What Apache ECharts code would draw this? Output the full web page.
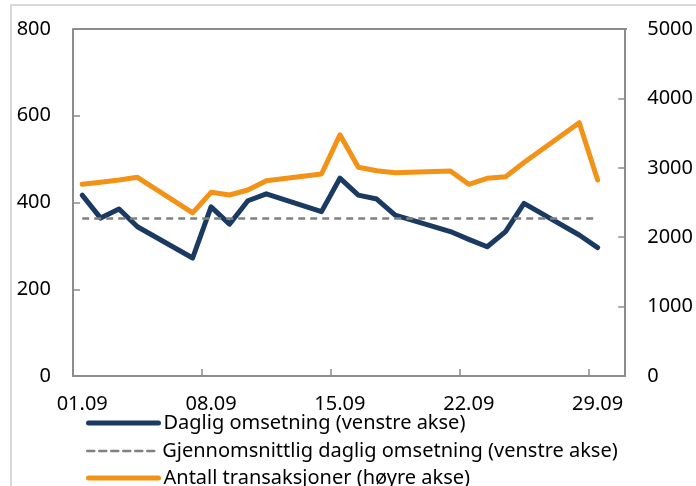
<!DOCTYPE html>
<html>
<head>
<meta charset="utf-8">
<script src="https://cdn.jsdelivr.net/npm/echarts@6/dist/echarts.min.js"></script>
<style>
  html, body { margin: 0; padding: 0; background: #fff; }
  #chart { width: 696px; height: 486px; }
</style>
</head>
<body>
<div id="chart"></div>
<script>
// datoer i september (helger uten data)
var dager = ['01.09', '02.09', '03.09', '04.09', '05.09', '06.09', '07.09', '08.09', '09.09', '10.09',
  '11.09', '12.09', '13.09', '14.09', '15.09', '16.09', '17.09', '18.09', '19.09', '20.09',
  '21.09', '22.09', '23.09', '24.09', '25.09', '26.09', '27.09', '28.09', '29.09', '30.09'];

// daglig omsetning, venstre akse
var omsetning = [417, 364, 385, 344, null, null, 272, 390, 350, 404,
  420, null, null, 379, 456, 417, 408, 371, null, null,
  333, 315, 298, 333, 398, null, null, 325, 296, null];

// gjennomsnittlig daglig omsetning, venstre akse
var snitt = [363, 363, 363, 363, null, null, 363, 363, 363, 363,
  363, null, null, 363, 363, 363, 363, 363, null, null,
  363, 363, 363, 363, 363, null, null, 363, 363, null];

// antall transaksjoner, høyre akse
var transaksjoner = [2762, 2791, 2824, 2863, null, null, 2350, 2647, 2608, 2680,
  2814, null, null, 2911, 3475, 3007, 2958, 2930, null, null,
  2954, 2762, 2849, 2872, 3075, null, null, 3650, 2824, null];

var navn = ['Daglig omsetning (venstre akse)',
  'Gjennomsnittlig daglig omsetning (venstre akse)',
  'Antall transaksjoner (høyre akse)'];

var font = 'Noto Sans';
var axisGray = '#8c8c8c';
var blaa = '#1b3a61';
var graa = '#808080';
var oransje = '#f29318';

// en legend per linje, ellers brytes den i kolonner
function lagLegend(i, top, bredde, type) {
  return {
    orient: 'vertical',
    left: 81,
    top: top,
    itemWidth: 70,
    itemHeight: 14,
    textStyle: { fontFamily: font, fontSize: 20, color: '#000', lineHeight: 20 },
    itemStyle: { opacity: 0, borderWidth: 0 },
    lineStyle: { width: bredde, type: type, cap: 'round' },
    data: [navn[i]]
  };
}

var myChart = echarts.init(document.getElementById('chart'));
var option = {
  backgroundColor: '#fff',
  animation: false,
  textStyle: { fontFamily: font, color: '#000' },
  grid: { left: 73, right: 69, top: 29, bottom: 110 },
  // ramme rundt figuren + topplinje i plottet
  graphic: [
    { type: 'line', shape: { x1: 10, y1: 5, x2: 696, y2: 5 }, style: { stroke: '#d9d9d9', lineWidth: 2 } },
    { type: 'line', shape: { x1: 11, y1: 5, x2: 11, y2: 486 }, style: { stroke: '#d9d9d9', lineWidth: 2 } },
    { type: 'line', shape: { x1: 73, y1: 29, x2: 627, y2: 29 }, style: { stroke: axisGray, lineWidth: 2 } }
  ],
  legend: [
    lagLegend(0, 408, 5, 'solid'),
    lagLegend(1, 436, 2.5, [7, 5]),
    lagLegend(2, 463, 5, 'solid')
  ],
  xAxis: {
    type: 'category',
    data: dager,
    boundaryGap: true,
    axisLine: { lineStyle: { color: axisGray, width: 2 } },
    axisTick: { show: true, interval: 6, inside: true, length: 7, lineStyle: { color: axisGray, width: 1.5 } },
    axisLabel: { interval: 6, margin: 18, fontSize: 20, fontFamily: font, color: '#000' },
    splitLine: { show: false }
  },
  yAxis: [
    {
      type: 'value',
      min: 0, max: 800, interval: 200,
      axisLine: { show: true, lineStyle: { color: axisGray, width: 2 } },
      axisTick: { show: true, inside: true, length: 7, lineStyle: { color: axisGray, width: 1.5 } },
      axisLabel: { margin: 22, fontSize: 20, fontFamily: font, color: '#000' },
      splitLine: { show: false }
    },
    {
      type: 'value',
      min: 0, max: 5000, interval: 1000,
      axisLine: { show: true, lineStyle: { color: axisGray, width: 2 } },
      axisTick: { show: true, inside: true, length: 7, lineStyle: { color: axisGray, width: 1.5 } },
      axisLabel: {
        margin: 22, fontSize: 20, fontFamily: font, color: '#000',
        formatter: function (v) { return String(v); }
      },
      splitLine: { show: false }
    }
  ],
  series: [
    {
      name: navn[0],
      type: 'line',
      yAxisIndex: 0,
      data: omsetning,
      connectNulls: true,
      symbol: 'none',
      lineStyle: { color: blaa, width: 5, cap: 'round', join: 'round' },
      itemStyle: { color: blaa }
    },
    {
      name: navn[1],
      type: 'line',
      yAxisIndex: 0,
      data: snitt,
      connectNulls: true,
      symbol: 'none',
      lineStyle: { color: graa, width: 2.5, type: [7, 5] },
      itemStyle: { color: graa }
    },
    {
      name: navn[2],
      type: 'line',
      yAxisIndex: 1,
      data: transaksjoner,
      connectNulls: true,
      symbol: 'none',
      lineStyle: { color: oransje, width: 5, cap: 'round', join: 'round' },
      itemStyle: { color: oransje }
    }
  ]
};
myChart.setOption(option);
</script>
</body>
</html>
